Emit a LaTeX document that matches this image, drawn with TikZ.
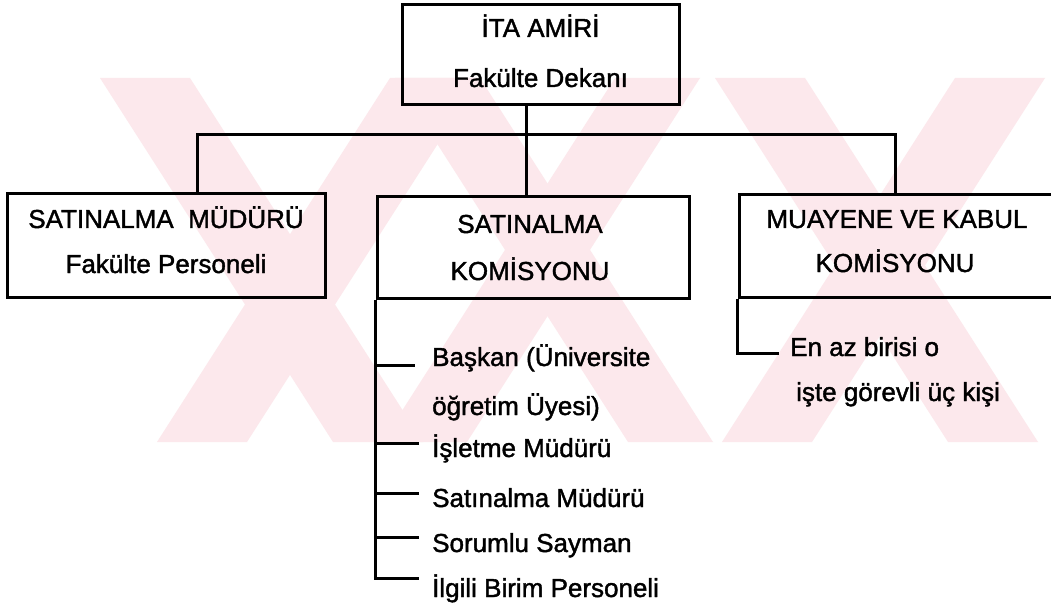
\documentclass[tikz,border=0pt]{standalone}
\usepackage{fontspec}
\setmainfont{Liberation Sans}[FakeBold=1.5]
\definecolor{wm}{RGB}{252,232,236}
\begin{document}
\begin{tikzpicture}[x=1pt,y=-1pt,
  box/.style={draw, line width=3pt, rectangle, inner sep=0pt},
  lbl/.style={anchor=base, inner sep=0pt, font=\fontsize{26}{30}\selectfont},
  itm/.style={anchor=base west, inner sep=0pt, font=\fontsize{26}{30}\selectfont},
  conn/.style={line width=3pt},
  band/.style={fill=wm, draw=none}]
\clip (0,0) rectangle (1051,612);
\fill[white] (0,0) rectangle (1051,612);
% watermark
\fill[band] (100,78) -- (190,78) -- (423,442) -- (333,442) -- cycle;
\fill[band] (480,78) -- (390,78) -- (157,442) -- (247,442) -- cycle;
\fill[band] (395,78) -- (480,78) -- (713,442) -- (628,442) -- cycle;
\fill[band] (700,78) -- (615,78) -- (382,442) -- (467,442) -- cycle;
\fill[band] (715,78) -- (805,78) -- (1038,442) -- (948,442) -- cycle;
\fill[band] (1045,78) -- (955,78) -- (722,442) -- (812,442) -- cycle;
% boxes
\node[box, minimum width=277pt, minimum height=100pt] (top) at (540.5,55) {};
\node[box, minimum width=318pt, minimum height=103pt] (lbox) at (166,245.5) {};
\node[box, minimum width=312pt, minimum height=101pt] (mbox) at (533,247.5) {};
\node[box, minimum width=323pt, minimum height=102pt] (rbox) at (900.5,246) {};
% box texts
\node[lbl] (t1) at (540.5,37) {İTA AMİRİ};
\node[lbl] (t2) at (540.5,87) {Fakülte Dekanı};
\node[lbl] (l1) at (166,228) {SATINALMA\ \ MÜDÜRÜ};
\node[lbl] (l2) at (166,273) {Fakülte Personeli};
\node[lbl] (m1) at (530,233) {SATINALMA};
\node[lbl] (m2) at (530,280) {KOMİSYONU};
\node[lbl] (r1) at (897,228) {MUAYENE VE KABUL};
\node[lbl] (r2) at (895,272) {KOMİSYONU};
% junctions
\coordinate (jm) at (526,135);
\coordinate (jl) at (197,135);
\coordinate (jr) at (895,135);
\draw[conn] (top.south -| jm) -- (jm |- mbox.north);
\draw[conn] (jl |- lbox.north) -- (jl) -- (jr) -- (jr |- rbox.north);
% list under Satinalma Komisyonu
\node[itm] (i1) at (432,366) {Başkan (Üniversite};
\node[itm] (i1b) at (432,415) {öğretim Üyesi)};
\node[itm] (i2) at (432,457) {İşletme Müdürü};
\node[itm] (i3) at (432,507) {Satınalma Müdürü};
\node[itm] (i4) at (432,552) {Sorumlu Sayman};
\node[itm] (i5) at (432,597) {İlgili Birim Personeli};
\coordinate (k1) at (415,365);
\coordinate (k2) at (419,443);
\coordinate (k3) at (419,493);
\coordinate (k4) at (419,537);
\coordinate (k5) at (419,578);
\draw[conn] (mbox.south west) -- (mbox.south west |- k5) -- (k5);
\draw[conn] (k1 -| mbox.south west) -- (k1);
\draw[conn] (k2 -| mbox.south west) -- (k2);
\draw[conn] (k3 -| mbox.south west) -- (k3);
\draw[conn] (k4 -| mbox.south west) -- (k4);
% list under Muayene ve Kabul
\node[itm] (e1) at (790,356) {En az birisi o};
\node[itm] (e2) at (796,401) {işte görevli üç kişi};
\coordinate (k6) at (779,353);
\draw[conn] (rbox.south west) -- (rbox.south west |- k6) -- (k6);
\end{tikzpicture}
\end{document}
